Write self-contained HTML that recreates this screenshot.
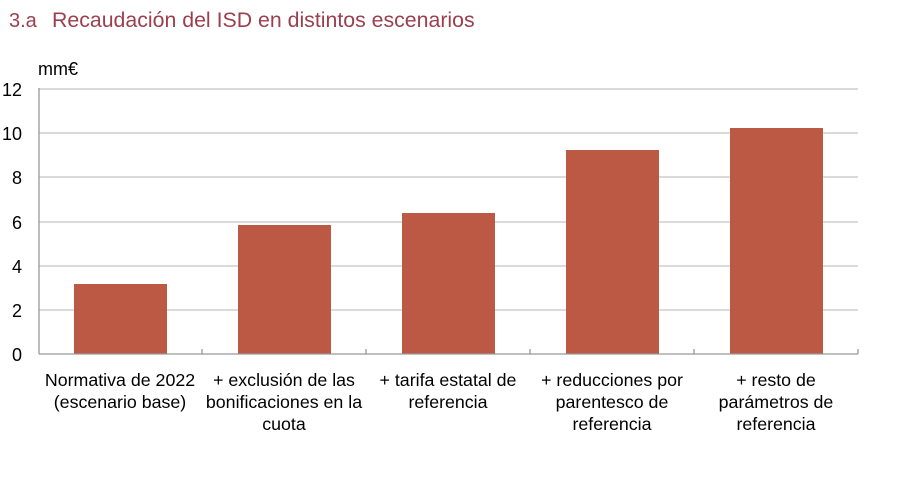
<!DOCTYPE html>
<html><head><meta charset="utf-8"><style>
body{margin:0;background:#fff;width:897px;height:483px;overflow:hidden}
svg text{font-family:"Liberation Sans",Arial,sans-serif}
</style></head><body>
<svg width="897" height="483" xmlns="http://www.w3.org/2000/svg">
<text x="9" y="27" font-size="20" fill="#9b3f4f">3.a</text>
<text x="52" y="27" font-size="21.3" fill="#9b3f4f">Recaudación del ISD en distintos escenarios</text>
<text x="38" y="75" font-size="18" fill="#000">mm€</text>
<g stroke="#c4c4c4" stroke-width="1.3">
<line x1="39" y1="89" x2="858" y2="89"/><line x1="39" y1="133" x2="858" y2="133"/>
<line x1="39" y1="177" x2="858" y2="177"/><line x1="39" y1="222" x2="858" y2="222"/>
<line x1="39" y1="266" x2="858" y2="266"/><line x1="39" y1="310" x2="858" y2="310"/>
</g>
<g fill="#bb5945">
<rect x="74" y="284" width="93" height="70"/>
<rect x="238" y="225" width="93" height="129"/>
<rect x="402" y="213" width="93" height="141"/>
<rect x="566" y="150" width="93" height="204"/>
<rect x="730" y="128" width="93" height="226"/>
</g>
<g stroke="#999" stroke-width="1.3">
<line x1="39" y1="88" x2="39" y2="354"/><line x1="39" y1="354" x2="858" y2="354"/>
<line x1="202" y1="349" x2="202" y2="354"/><line x1="366" y1="349" x2="366" y2="354"/>
<line x1="530" y1="349" x2="530" y2="354"/><line x1="694" y1="349" x2="694" y2="354"/>
<line x1="858" y1="349" x2="858" y2="354"/>
</g>
<g font-size="18" text-anchor="end" fill="#000">
<text x="22" y="96">12</text><text x="22" y="140">10</text><text x="22" y="184">8</text>
<text x="22" y="229">6</text><text x="22" y="273">4</text><text x="22" y="317">2</text><text x="22" y="361">0</text>
</g>
<g font-size="17.8" text-anchor="middle" fill="#000">
<text x="120" y="386">Normativa de 2022</text><text x="120" y="408">(escenario base)</text>
<text x="284" y="386">+ exclusión de las</text><text x="284" y="408">bonificaciones en la</text><text x="284" y="430">cuota</text>
<text x="448" y="386">+ tarifa estatal de</text><text x="448" y="408">referencia</text>
<text x="612" y="386">+ reducciones por</text><text x="612" y="408">parentesco de</text><text x="612" y="430">referencia</text>
<text x="776" y="386">+ resto de</text><text x="776" y="408">parámetros de</text><text x="776" y="430">referencia</text>
</g>
</svg>
</body></html>
